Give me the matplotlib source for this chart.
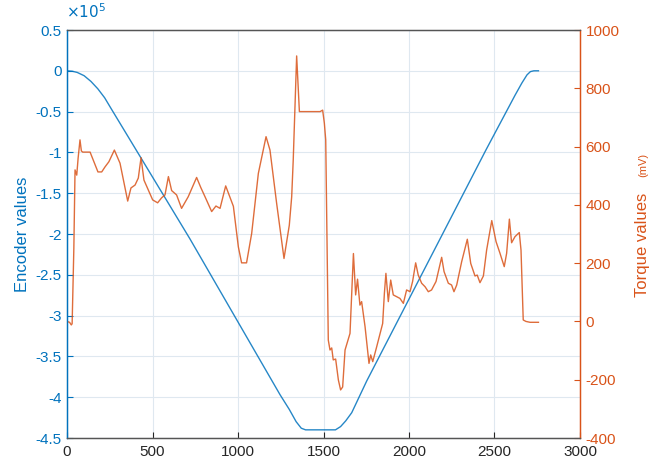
import matplotlib
matplotlib.use("Agg")
import matplotlib.pyplot as plt

# ---- data ----
enc_x = [0, 30, 60, 100, 140, 180, 220, 260, 719, 1246, 1300, 1340, 1370, 1395,
         1570, 1600, 1630, 1665, 1753, 2450, 2620, 2660, 2690, 2710, 2730, 2757]
enc_y = [0, -0.005, -0.02, -0.06, -0.13, -0.22, -0.33, -0.47, -2.06, -3.97, -4.15,
         -4.30, -4.38, -4.40, -4.40, -4.36, -4.29, -4.19, -3.80, -0.97, -0.30,
         -0.15, -0.05, -0.01, 0, 0]

tq_x = [0, 15, 25, 30, 40, 47, 57, 65, 76, 84, 92, 135, 181, 203, 222, 245, 277,
        310, 355, 374, 398, 417, 433, 450, 470, 501, 530, 553, 573, 593, 612, 641,
        670, 709, 758, 782, 807, 846, 871, 895, 928, 973, 1002, 1021, 1050, 1080,
        1119, 1164, 1187, 1226, 1269, 1300, 1314, 1323, 1343, 1359, 1480, 1495,
        1505, 1513, 1528, 1538, 1548, 1557, 1571, 1587, 1600, 1612, 1626, 1655,
        1665, 1675, 1688, 1699, 1713, 1723, 1743, 1766, 1776, 1788, 1811, 1846,
        1856, 1865, 1879, 1893, 1908, 1928, 1947, 1967, 1986, 2006, 2021, 2039,
        2054, 2074, 2094, 2113, 2132, 2158, 2191, 2205, 2230, 2249, 2263, 2279,
        2308, 2341, 2361, 2386, 2399, 2415, 2435, 2454, 2484, 2509, 2532, 2557,
        2571, 2587, 2600, 2620, 2645, 2655, 2668, 2684, 2708, 2757]
tq_y = [0, -3, -12, -8, 250, 520, 502, 560, 623, 585, 581, 581, 513, 513, 530,
        548, 588, 543, 413, 458, 468, 492, 562, 485, 458, 417, 407, 424, 434,
        497, 449, 434, 388, 428, 494, 460, 428, 377, 396, 388, 465, 395, 256,
        201, 201, 302, 508, 634, 588, 405, 216, 330, 428, 554, 911, 720, 720,
        725, 680, 623, -64, -98, -91, -132, -129, -201, -235, -225, -98, -41,
        97, 233, 91, 145, 56, 68, -18, -144, -115, -138, -87, -7, 96, 165, 68,
        142, 91, 85, 79, 62, 108, 102, 137, 201, 159, 131, 119, 102, 108, 137,
        220, 171, 131, 125, 102, 125, 205, 282, 199, 156, 159, 133, 156, 245,
        346, 274, 234, 188, 234, 351, 270, 291, 305, 245, 5, 0, -3, -3]

x_ticks = [0, 500, 1000, 1500, 2000, 2500, 3000]
left_ticks = [0.5, 0, -0.5, -1, -1.5, -2, -2.5, -3, -3.5, -4, -4.5]
right_ticks = [1000, 800, 600, 400, 200, 0, -200, -400]

BLUE = "#0072BD"
ORANGE = "#D95319"
DARK = "#262626"

plt.rcParams['font.family'] = ['Liberation Sans', 'DejaVu Sans']

fig = plt.figure(figsize=(6.54, 4.70), dpi=100)
ax = fig.add_axes([67/654, 1-438/470, (580-67)/654, (438-30)/470])
ax2 = ax.twinx()

ax.plot(enc_x, enc_y, color=BLUE, lw=1.0, alpha=0.85)
ax2.plot(tq_x, tq_y, color=ORANGE, lw=1.0, alpha=0.85)

ax.set_xlim(0, 3000)
ax.set_ylim(-4.5, 0.5)
ax2.set_ylim(-400, 1000)
ax.set_xticks(x_ticks)
ax.set_xticklabels([str(v) for v in x_ticks])
ax.set_yticks(left_ticks)
ax.set_yticklabels([("%g" % v) for v in left_ticks])
ax2.set_yticks(right_ticks)
ax2.set_yticklabels([str(v) for v in right_ticks])

ax.grid(True, color="#dfe8f0", lw=0.8)
ax.set_axisbelow(True)

fs = 11
ax.tick_params(axis='x', direction='in', length=4, colors=DARK, labelsize=fs, pad=5)
ax.tick_params(axis='y', direction='in', length=4, colors=BLUE, labelsize=fs, pad=4)
ax2.tick_params(axis='y', direction='in', length=4, colors=ORANGE, labelsize=fs, pad=4)

for a in (ax, ax2):
    a.spines['top'].set_color("#555555")
    a.spines['bottom'].set_color("#555555")
    a.spines['left'].set_color(BLUE)
    a.spines['right'].set_color(ORANGE)
    for s in a.spines.values():
        s.set_linewidth(0.9)

ax.set_ylabel("Encoder values", color=BLUE, fontsize=12, labelpad=4)
fig.text(0.101, 0.955, r"$\times10^5$", color=BLUE, fontsize=11,
         ha='left', va='bottom')
fig.text(642/654, 1-245/470, "Torque values", color=ORANGE, fontsize=12,
         rotation=90, ha='center', va='center')
fig.text(643/654, 1-165/470, "(mV)", color=ORANGE, fontsize=8,
         rotation=90, ha='center', va='center')

fig.savefig("out.png", dpi=100)
